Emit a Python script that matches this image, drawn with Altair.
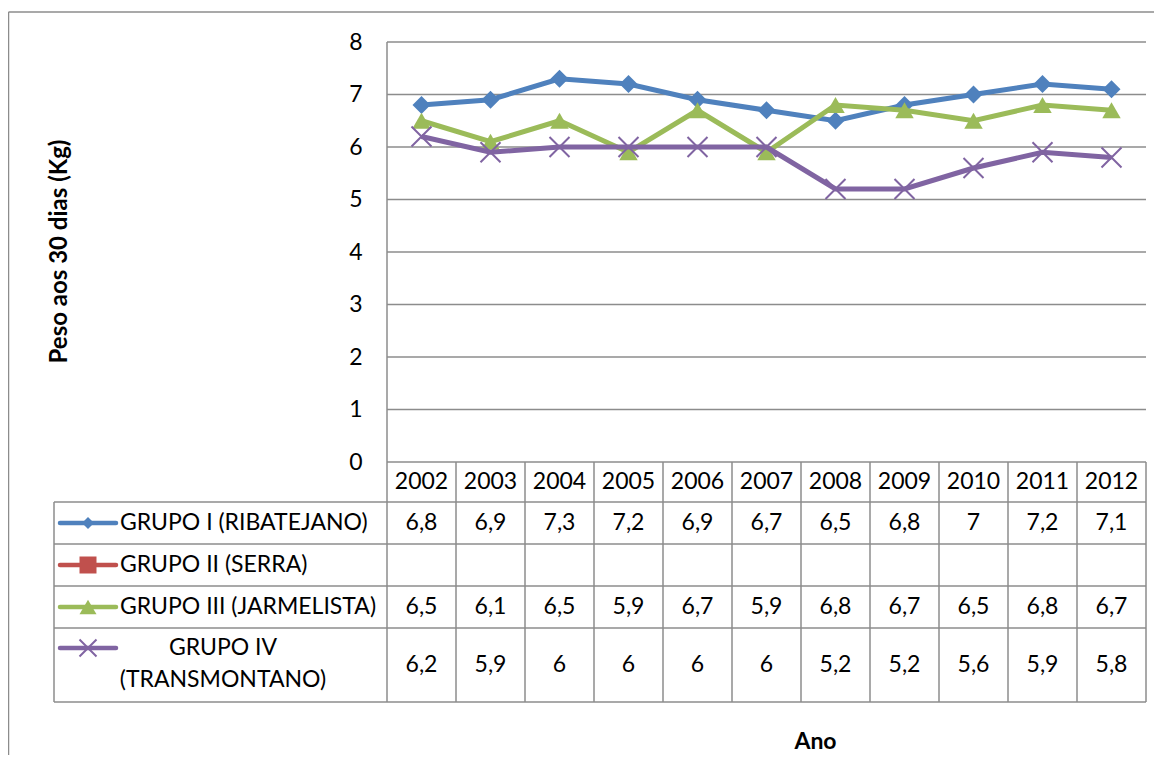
import altair as alt
import pandas as pd

# ---------------- data ----------------
years = [2002, 2003, 2004, 2005, 2006, 2007, 2008, 2009, 2010, 2011, 2012]
series_names = [
    "GRUPO I (RIBATEJANO)",
    "GRUPO II (SERRA)",
    "GRUPO III (JARMELISTA)",
    "GRUPO IV (TRANSMONTANO)",
]
grupo_i = [6.8, 6.9, 7.3, 7.2, 6.9, 6.7, 6.5, 6.8, 7.0, 7.2, 7.1]
grupo_ii = [None] * 11
grupo_iii = [6.5, 6.1, 6.5, 5.9, 6.7, 5.9, 6.8, 6.7, 6.5, 6.8, 6.7]
grupo_iv = [6.2, 5.9, 6.0, 6.0, 6.0, 6.0, 5.2, 5.2, 5.6, 5.9, 5.8]
y_ticks = [0, 1, 2, 3, 4, 5, 6, 7, 8]
series_values = [grupo_i, grupo_ii, grupo_iii, grupo_iv]
colors = ["#4F81BD", "#C0504D", "#9BBB59", "#8064A2"]

# ---------------- layout ----------------
FONT = "Lato"
FS = 23
W, H = 1092, 660
Y_MAX = 8
PXU = 52.5                      # px per y unit
Y_MIN = Y_MAX - H / PXU
COL_PX = 69
LEG = 333 / COL_PX              # width of legend column, in column units
NCOL = len(years)
GRID = "#8c8c8c"


def u(px_below_zero):
    """table row offset (px under the zero line) -> y units"""
    return -px_below_zero / PXU


def ux(px_from_legend_left):
    return px_from_legend_left / COL_PX - LEG


ROW_EDGES = [40, 82, 124, 166, 240]
ROW_CENTERS = [61, 103, 145, 203]
GLYPH_Y = [61, 103, 145, 186]


def fmt(v):
    return ("%g" % v).replace(".", ",")


xs = alt.Scale(domain=[-LEG, NCOL], nice=False, zero=False)
ys = alt.Scale(domain=[Y_MIN, Y_MAX], nice=False, zero=False)

# ---------------- tables ----------------
line_rows, val_rows = [], []
for name, vals, rc in zip(series_names, series_values, ROW_CENTERS):
    for i, v in enumerate(vals):
        if v is not None:
            line_rows.append({"series": name, "x": i + 0.5, "y": v})
            val_rows.append({"x": i + 0.5, "y": u(rc), "label": fmt(v)})
lines_df = pd.DataFrame(line_rows)
vals_df = pd.DataFrame(val_rows)

grid_df = pd.DataFrame({"y": y_ticks, "x": [0] * len(y_ticks), "x2": [NCOL] * len(y_ticks)})

v_rows = [{"x": -LEG, "y": u(ROW_EDGES[0]), "y2": u(ROW_EDGES[-1])},
          {"x": 0, "y": Y_MAX, "y2": u(ROW_EDGES[-1])}]
for k in range(1, NCOL + 1):
    v_rows.append({"x": k, "y": 0, "y2": u(ROW_EDGES[-1])})
vlines_df = pd.DataFrame(v_rows)
hlines_df = pd.DataFrame({"y": [u(e) for e in ROW_EDGES],
                          "x": [-LEG] * len(ROW_EDGES),
                          "x2": [NCOL] * len(ROW_EDGES)})

header_df = pd.DataFrame({"x": [i + 0.5 for i in range(NCOL)],
                          "y": [u(20)] * NCOL,
                          "label": [str(y) for y in years]})

glyph_df = pd.DataFrame({"series": series_names,
                         "x": [ux(6)] * 4, "x2": [ux(62)] * 4,
                         "xm": [ux(34)] * 4,
                         "y": [u(g) for g in GLYPH_Y]})
legtxt_df = pd.DataFrame({"x": [ux(66)] * 3,
                          "y": [u(g) for g in GLYPH_Y[:3]],
                          "label": series_names[:3]})
legtxt4_df = pd.DataFrame({"x": [ux(169)], "y": [u(186)],
                           "label": ["GRUPO IV\n(TRANSMONTANO)"]})

color = alt.Color("series:N", scale=alt.Scale(domain=series_names, range=colors), legend=None)

# ---------------- layers ----------------
grid = alt.Chart(grid_df).mark_rule(color=GRID, strokeWidth=1.5).encode(
    x=alt.X("x:Q", scale=xs, axis=alt.Axis(title="Ano", labels=False, ticks=False, domain=False,
                                           grid=False, titleFont=FONT, titleFontSize=23,
                                           titleFontWeight="bold", titleColor="black",
                                           titleX=761, titleY=39, titleBaseline="middle",
                                           titleAlign="center")),
    x2="x2:Q",
    y=alt.Y("y:Q", scale=ys, axis=alt.Axis(
        title="Peso aos 30 dias (Kg)", values=y_ticks, offset=-333, domain=False,
        ticks=False, tickSize=0, grid=False, labelPadding=25, labelFont=FONT,
        labelFontSize=FS, labelColor="black", titleFont=FONT, titleFontSize=24,
        titleFontWeight="bold", titleColor="black", titleAngle=270,
        titleX=-328, titleY=209, titleAlign="center", titleBaseline="middle")),
)

vlines = alt.Chart(vlines_df).mark_rule(color=GRID, strokeWidth=1.5).encode(
    x="x:Q", y="y:Q", y2="y2:Q")
hlines = alt.Chart(hlines_df).mark_rule(color=GRID, strokeWidth=1.5).encode(
    x="x:Q", x2="x2:Q", y="y:Q")

frame_left = alt.Chart().mark_rule(color=GRID, strokeWidth=1.5).encode(
    x=alt.value(-45.5), y=alt.value(-30), y2=alt.value(H + 60))
frame_top = alt.Chart().mark_rule(color=GRID, strokeWidth=1.5).encode(
    x=alt.value(-45.5), x2=alt.value(W + 10), y=alt.value(-30))

layers = [frame_left, frame_top, grid, vlines, hlines]

marker = {
    "GRUPO I (RIBATEJANO)": dict(shape="diamond", size=324, filled=True),
    "GRUPO III (JARMELISTA)": dict(shape="triangle-up", size=340, filled=True),
    "GRUPO IV (TRANSMONTANO)": dict(shape="M-1,-1L1,1M-1,1L1,-1", size=400, filled=False, strokeWidth=2),
}
for name in [series_names[0], series_names[2], series_names[3]]:
    base = alt.Chart(lines_df).transform_filter(alt.datum.series == name)
    layers.append(base.mark_line(strokeWidth=5).encode(x="x:Q", y="y:Q", color=color))
    layers.append(base.mark_point(opacity=1, **marker[name]).encode(x="x:Q", y="y:Q", color=color))

# legend glyphs
layers.append(alt.Chart(glyph_df).mark_rule(strokeWidth=4.5, strokeCap="round").encode(
    x="x:Q", x2="x2:Q", y="y:Q", color=color))
gmark = {
    "GRUPO I (RIBATEJANO)": dict(shape="diamond", size=144, filled=True),
    "GRUPO II (SERRA)": dict(shape="square", size=289, filled=True),
    "GRUPO III (JARMELISTA)": dict(shape="triangle-up", size=289, filled=True),
    "GRUPO IV (TRANSMONTANO)": dict(shape="M-1,-1L1,1M-1,1L1,-1", size=289, filled=False, strokeWidth=2),
}
for name in series_names:
    layers.append(alt.Chart(glyph_df).transform_filter(alt.datum.series == name)
                  .mark_point(opacity=1, **gmark[name]).encode(x="xm:Q", y="y:Q", color=color))

txt = dict(font=FONT, fontSize=FS, color="black", baseline="middle")
layers.append(alt.Chart(header_df).mark_text(align="center", **txt).encode(
    x="x:Q", y="y:Q", text="label:N"))
layers.append(alt.Chart(vals_df).mark_text(align="center", **txt).encode(
    x="x:Q", y="y:Q", text="label:N"))
layers.append(alt.Chart(legtxt_df).mark_text(align="left", **txt).encode(
    x="x:Q", y="y:Q", text="label:N"))
layers.append(alt.Chart(legtxt4_df).mark_text(align="center", lineBreak="\n", lineHeight=32, **txt).encode(
    x="x:Q", y="y:Q", text="label:N"))

chart = alt.layer(*layers).properties(
    width=W, height=H,
    autosize=alt.AutoSizeParams(type="none"),
    padding={"left": 46, "top": 34, "right": 8, "bottom": 53},
).configure(font=FONT).configure_view(strokeWidth=0, stroke="transparent")

chart.save("out.html", embed_options={"renderer": "svg", "actions": False})
